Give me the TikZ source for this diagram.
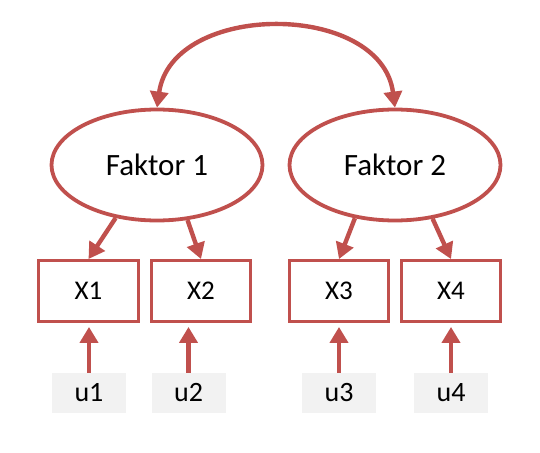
\documentclass[tikz,border=0pt]{standalone}
\usepackage{fontspec}
\setmainfont{Carlito}
\usetikzlibrary{arrows.meta,shapes.geometric}
\definecolor{semred}{HTML}{C0504D}
\definecolor{resgray}{HTML}{F2F2F2}
\newcommand{\LoadTip}{Triangle[length=16,width=18]}
\tikzset{latent/.style={ellipse,draw=semred,line width=3.8pt,minimum width=211pt,minimum height=111pt,inner sep=0,font=\fontsize{31}{36}\selectfont},
manifest/.style={rectangle,draw=semred,line width=3.4pt,minimum width=99.5pt,minimum height=60.5pt,inner sep=0,font=\fontsize{27}{32}\selectfont},
resid/.style={rectangle,fill=resgray,minimum width=74pt,minimum height=40pt,inner sep=0,font=\fontsize{28}{33}\selectfont},
path/.style={draw=semred,line width=4.4pt,-{\LoadTip}}}
\begin{document}
\begin{tikzpicture}[x=1pt,y=-1pt]
\useasboundingbox(0,0)rectangle(540,452);
\node[latent](f1)at(157,165){Faktor 1};\node[latent](f2)at(395,165){Faktor 2};
\node[manifest](x1)at(88.5,291){X1};\node[manifest](x2)at(201,291){X2};
\node[manifest](x3)at(339,291){X3};\node[manifest](x4)at(451,291){X4};
\node[resid](u1)at(89,393){u1};\node[resid](u2)at(188.5,393){u2};
\node[resid](u3)at(339,393){u3};\node[resid](u4)at(451,393){u4};
% covariance
\draw[path,{\LoadTip}-{\LoadTip}](f1.north)..controls(172,1)and(381,1)..(f2.north);
% loadings
\draw[path](f1.232)--(x1.north);\draw[path](f1.299)--(x2.north);
\draw[path](f2.233)--(x3.north);\draw[path](f2.305)--(x4.north);
% residuals
\foreach \i in {1,...,4}{\draw[path,shorten >=4pt](u\i.north)--(u\i.north|-x\i.south);}
\end{tikzpicture}
\end{document}
